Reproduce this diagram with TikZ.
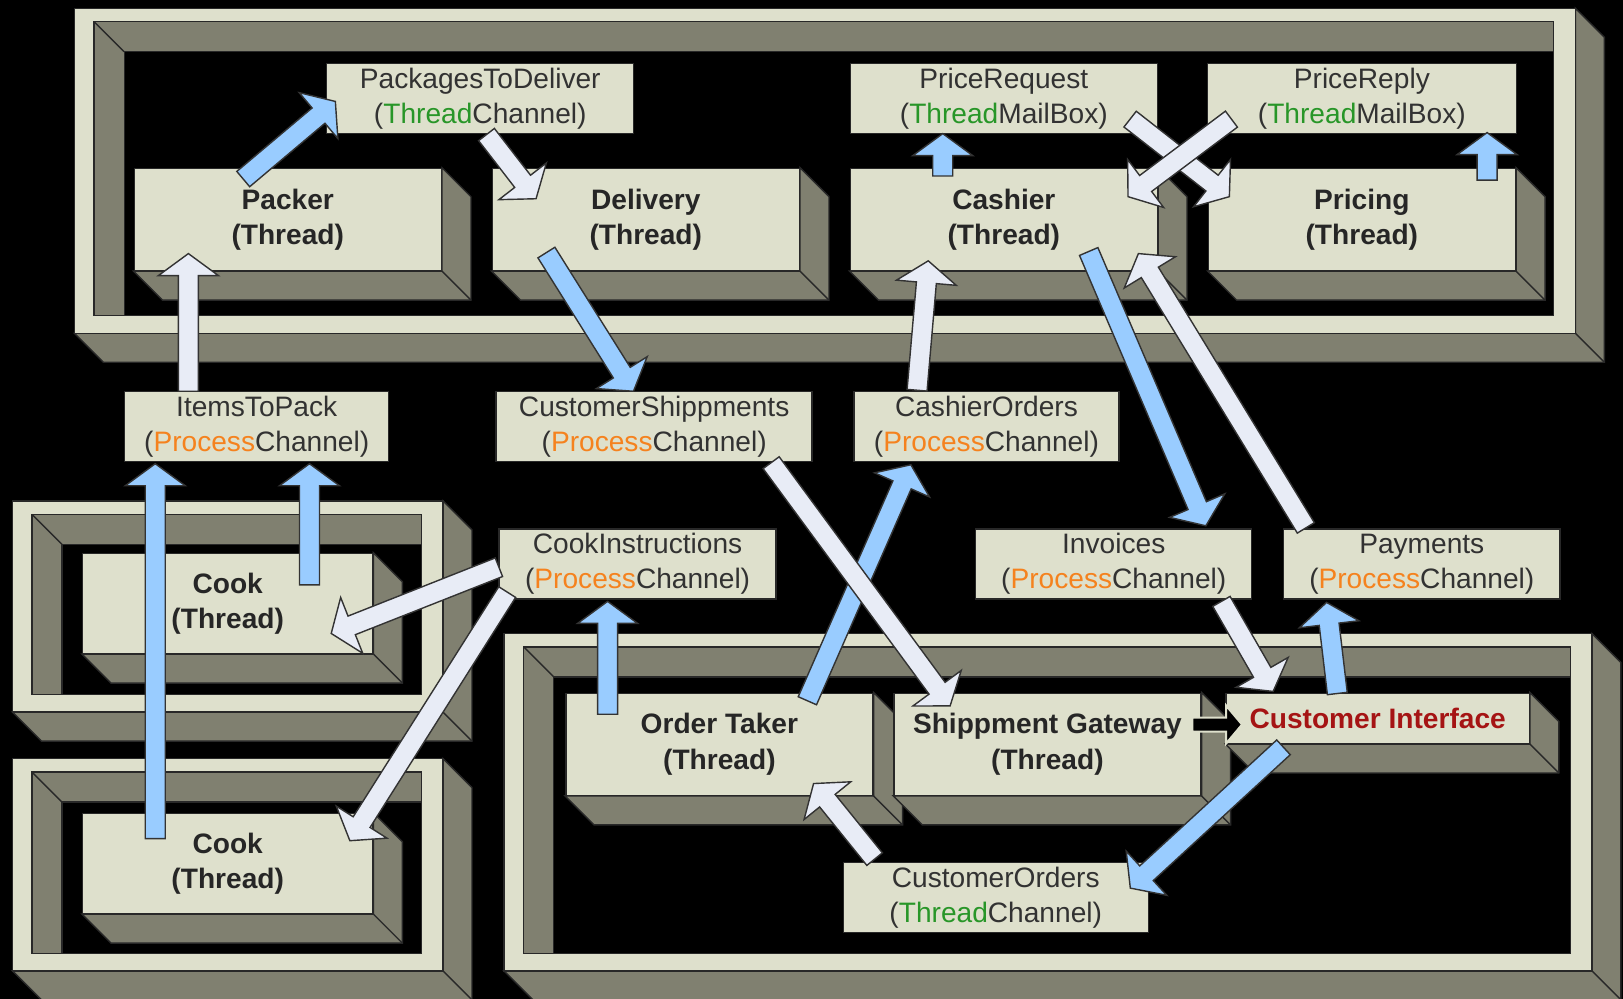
\documentclass[tikz,border=0pt]{standalone}
\usepackage{fontspec}
\setmainfont{Liberation Sans}
\usepackage{tikz}
\usetikzlibrary{calc}

\definecolor{facecol}{RGB}{222,224,204}
\definecolor{sidecol}{RGB}{128,128,112}
\definecolor{edgecol}{RGB}{40,40,40}
\definecolor{arrblue}{RGB}{153,204,255}
\definecolor{arrpale}{RGB}{232,236,246}
\definecolor{thrgreen}{RGB}{40,150,40}
\definecolor{procorange}{RGB}{245,130,30}
\definecolor{cifred}{RGB}{165,20,20}
\definecolor{chantext}{RGB}{50,50,50}

\tikzstyle{thread} = [rectangle, draw=edgecol, fill=facecol, text=black!85,
    font=\fontsize{8}{10}\selectfont\bfseries, align=center,
    minimum width=3.07cm, minimum height=1.02cm, inner sep=0pt]
\tikzstyle{channel} = [rectangle, draw=edgecol, fill=facecol, text=chantext,
    font=\fontsize{8}{10}\selectfont, align=center, minimum height=0.7cm, inner sep=0pt]
\tikzstyle{side} = [draw=edgecol, fill=sidecol]
\tikzstyle{bluearrow} = [draw=black!80, fill=arrblue, line width=0.4pt]
\tikzstyle{palearrow} = [draw=black!80, fill=arrpale, line width=0.4pt]
\tikzstyle{darkarrow} = [draw=facecol, fill=black, line width=0.6pt]

\newcommand{\thrtag}{\textcolor{thrgreen}{Thread}}
\newcommand{\proctag}{\textcolor{procorange}{Process}}
\newcommand{\arrshaft}{1.0mm}
\newcommand{\arrhead}{3.0mm}
\newcommand{\arrlen}{2.2mm}

% right and bottom faces of a block
\newcommand{\sides}[1]{%
  \filldraw[side] (#1.north east) -- ++(28,28) -- ($(#1.south east)+(28,28)$)
    -- ($(#1.south west)+(28,28)$) -- (#1.south west) -- (#1.south east) -- cycle;
  \draw[edgecol] (#1.south east) -- ++(28,28);
}
% framed tray: x1 y1 x2 y2
\newcommand{\tray}[4]{%
  \filldraw[side] (#3,#2) -- (#3+28,#2+28) -- (#3+28,#4+28) -- (#1+28,#4+28)
    -- (#1,#4) -- (#3,#4) -- cycle;
  \draw[edgecol] (#3,#4) -- (#3+28,#4+28);
  \filldraw[draw=edgecol, fill=facecol] (#1,#2) rectangle (#3,#4);
  \filldraw[side] (#1+19,#2+13) rectangle (#3-21,#4-17);
  \filldraw[draw=edgecol, fill=black] (#1+48,#2+42) rectangle (#3-21,#4-17);
  \draw[edgecol] (#1+19,#2+13) -- (#1+48,#2+42);
}
% block arrow: style, tail, tip
\newcommand{\flow}[3]{%
  \coordinate (fa-s) at (#2);
  \coordinate (fa-e) at (#3);
  \coordinate (fa-b) at ($(fa-e)!\arrlen!(fa-s)$);
  \filldraw[#1] ($(fa-s)!\arrshaft!90:(fa-e)$) -- ($(fa-b)!\arrshaft!90:(fa-e)$)
    -- ($(fa-b)!\arrhead!90:(fa-e)$) -- (fa-e) -- ($(fa-b)!\arrhead!-90:(fa-e)$)
    -- ($(fa-b)!\arrshaft!-90:(fa-e)$) -- ($(fa-s)!\arrshaft!-90:(fa-e)$) -- cycle;
}

\begin{document}
\begin{tikzpicture}[x=0.1035mm, y=-0.1035mm]
    \useasboundingbox (0,0) rectangle (1568,965);
    \fill[black] (0,0) rectangle (1568,965);
    % Trays and threads
    \tray{72}{8}{1522}{322}
    \node [thread] (packer) at (278,212) {Packer\\(Thread)};
    \sides{packer}
    \node [thread, right of=packer, node distance=3.58cm] (delivery) {Delivery\\(Thread)};
    \sides{delivery}
    \node [thread, right of=delivery, node distance=3.58cm] (cashier) {Cashier\\(Thread)};
    \sides{cashier}
    \node [thread, right of=cashier, node distance=3.58cm] (pricing) {Pricing\\(Thread)};
    \sides{pricing}
    \tray{12}{484}{428}{688}
    \node [thread, minimum width=2.9cm, minimum height=1.0cm] (cook1) at (220,583) {Cook\\(Thread)};
    \sides{cook1}
    \tray{12}{733}{428}{938}
    \node [thread, minimum width=2.9cm, minimum height=1.0cm, below of=cook1, node distance=2.6cm] (cook2) {Cook\\(Thread)};
    \sides{cook2}
    \tray{487}{612}{1538}{938}
    \node [thread] (ordertaker) at (695,719) {Order Taker\\(Thread)};
    \sides{ordertaker}
    \node [thread, right of=ordertaker, node distance=3.28cm] (gateway) {Shippment Gateway\\(Thread)};
    \sides{gateway}
    \node [thread, minimum width=3.03cm, minimum height=0.5cm, text=cifred] (custif) at (1331,694) {Customer Interface};
    \sides{custif}
    % Channels
    \node [channel, minimum width=3.07cm] (packages) at (464,95) {PackagesToDeliver\\(\thrtag Channel)};
    \node [channel, minimum width=3.07cm, above of=cashier, node distance=1.21cm] (pricereq) {PriceRequest\\(\thrtag MailBox)};
    \node [channel, minimum width=3.09cm, above of=pricing, node distance=1.21cm] (pricerep) {PriceReply\\(\thrtag MailBox)};
    \node [channel, minimum width=2.64cm] (itemstopack) at (248,412) {ItemsToPack\\(\proctag Channel)};
    \node [channel, minimum width=3.16cm] (custship) at (632,412) {CustomerShippments\\(\proctag Channel)};
    \node [channel, minimum width=2.65cm] (cashorders) at (953,412) {CashierOrders\\(\proctag Channel)};
    \node [channel, minimum width=2.77cm] (cookinstr) at (616,545) {CookInstructions\\(\proctag Channel)};
    \node [channel, minimum width=2.76cm] (invoices) at (1076,545) {Invoices\\(\proctag Channel)};
    \node [channel, minimum width=2.76cm, right of=invoices, node distance=3.08cm] (payments) {Payments\\(\proctag Channel)};
    \node [channel, minimum width=3.05cm] (custorders) at (962,867) {CustomerOrders\\(\thrtag Channel)};
    % Arrows
    \flow{bluearrow}{$(packer)+(-43,-39)$}{$(packages)+(-140,3)$}
    \flow{palearrow}{$(packages)+(6,35)$}{$(delivery)+(-106,-20)$}
    \flow{bluearrow}{$(delivery)+(-96,32)$}{$(custship)+(-20,-34)$}
    \flow{palearrow}{$(itemstopack)+(-66,-34)$}{$(packer)+(-96,33)$}
    \flow{bluearrow}{$(cook1)+(79,-18)$}{$(itemstopack)+(51,36)$}
    \flow{bluearrow}{$(cook2)+(-70,-24)$}{$(itemstopack)+(-98,36)$}
    \flow{palearrow}{$(cookinstr)+(-134,3)$}{$(cook1)+(100,29)$}
    \flow{palearrow}{$(cookinstr)+(-126,27)$}{$(cook2)+(118,-22)$}
    \flow{bluearrow}{$(ordertaker)+(-108,-29)$}{$(cookinstr)+(-29,36)$}
    \flow{bluearrow}{$(ordertaker)+(85,-42)$}{$(cashorders)+(-73,37)$}
    \flow{palearrow}{$(custship)+(113,35)$}{$(gateway)+(-94,-37)$}
    \flow{palearrow}{$(cashorders)+(-67,-35)$}{$(cashier)+(-73,40)$}
    \flow{bluearrow}{$(cashier)+(-59,-42)$}{$(pricereq)+(-59,34)$}
    \flow{palearrow}{$(pricereq)+(122,20)$}{$(pricing)+(-128,-22)$}
    \flow{palearrow}{$(pricerep)+(-126,20)$}{$(cashier)+(120,-22)$}
    \flow{bluearrow}{$(pricing)+(121,-38)$}{$(pricerep)+(121,33)$}
    \flow{bluearrow}{$(cashier)+(82,31)$}{$(invoices)+(89,-37)$}
    \flow{palearrow}{$(payments)+(-112,-35)$}{$(cashier)+(130,33)$}
    \flow{palearrow}{$(invoices)+(104,36)$}{$(custif)+(-101,-26)$}
    \flow{bluearrow}{$(custif)+(-39,-24)$}{$(payments)+(-92,37)$}
    \flow{bluearrow}{$(custif)+(-91,28)$}{$(custorders)+(130,-9)$}
    \flow{palearrow}{$(custorders)+(-117,-37)$}{$(ordertaker)+(91,38)$}
    \begin{scope}
      \renewcommand{\arrshaft}{0.7mm}
      \renewcommand{\arrhead}{1.9mm}
      \renewcommand{\arrlen}{1.6mm}
      \flow{darkarrow}{$(gateway)+(140,-19)$}{$(custif)+(-131,6)$}
    \end{scope}
\end{tikzpicture}
\end{document}
